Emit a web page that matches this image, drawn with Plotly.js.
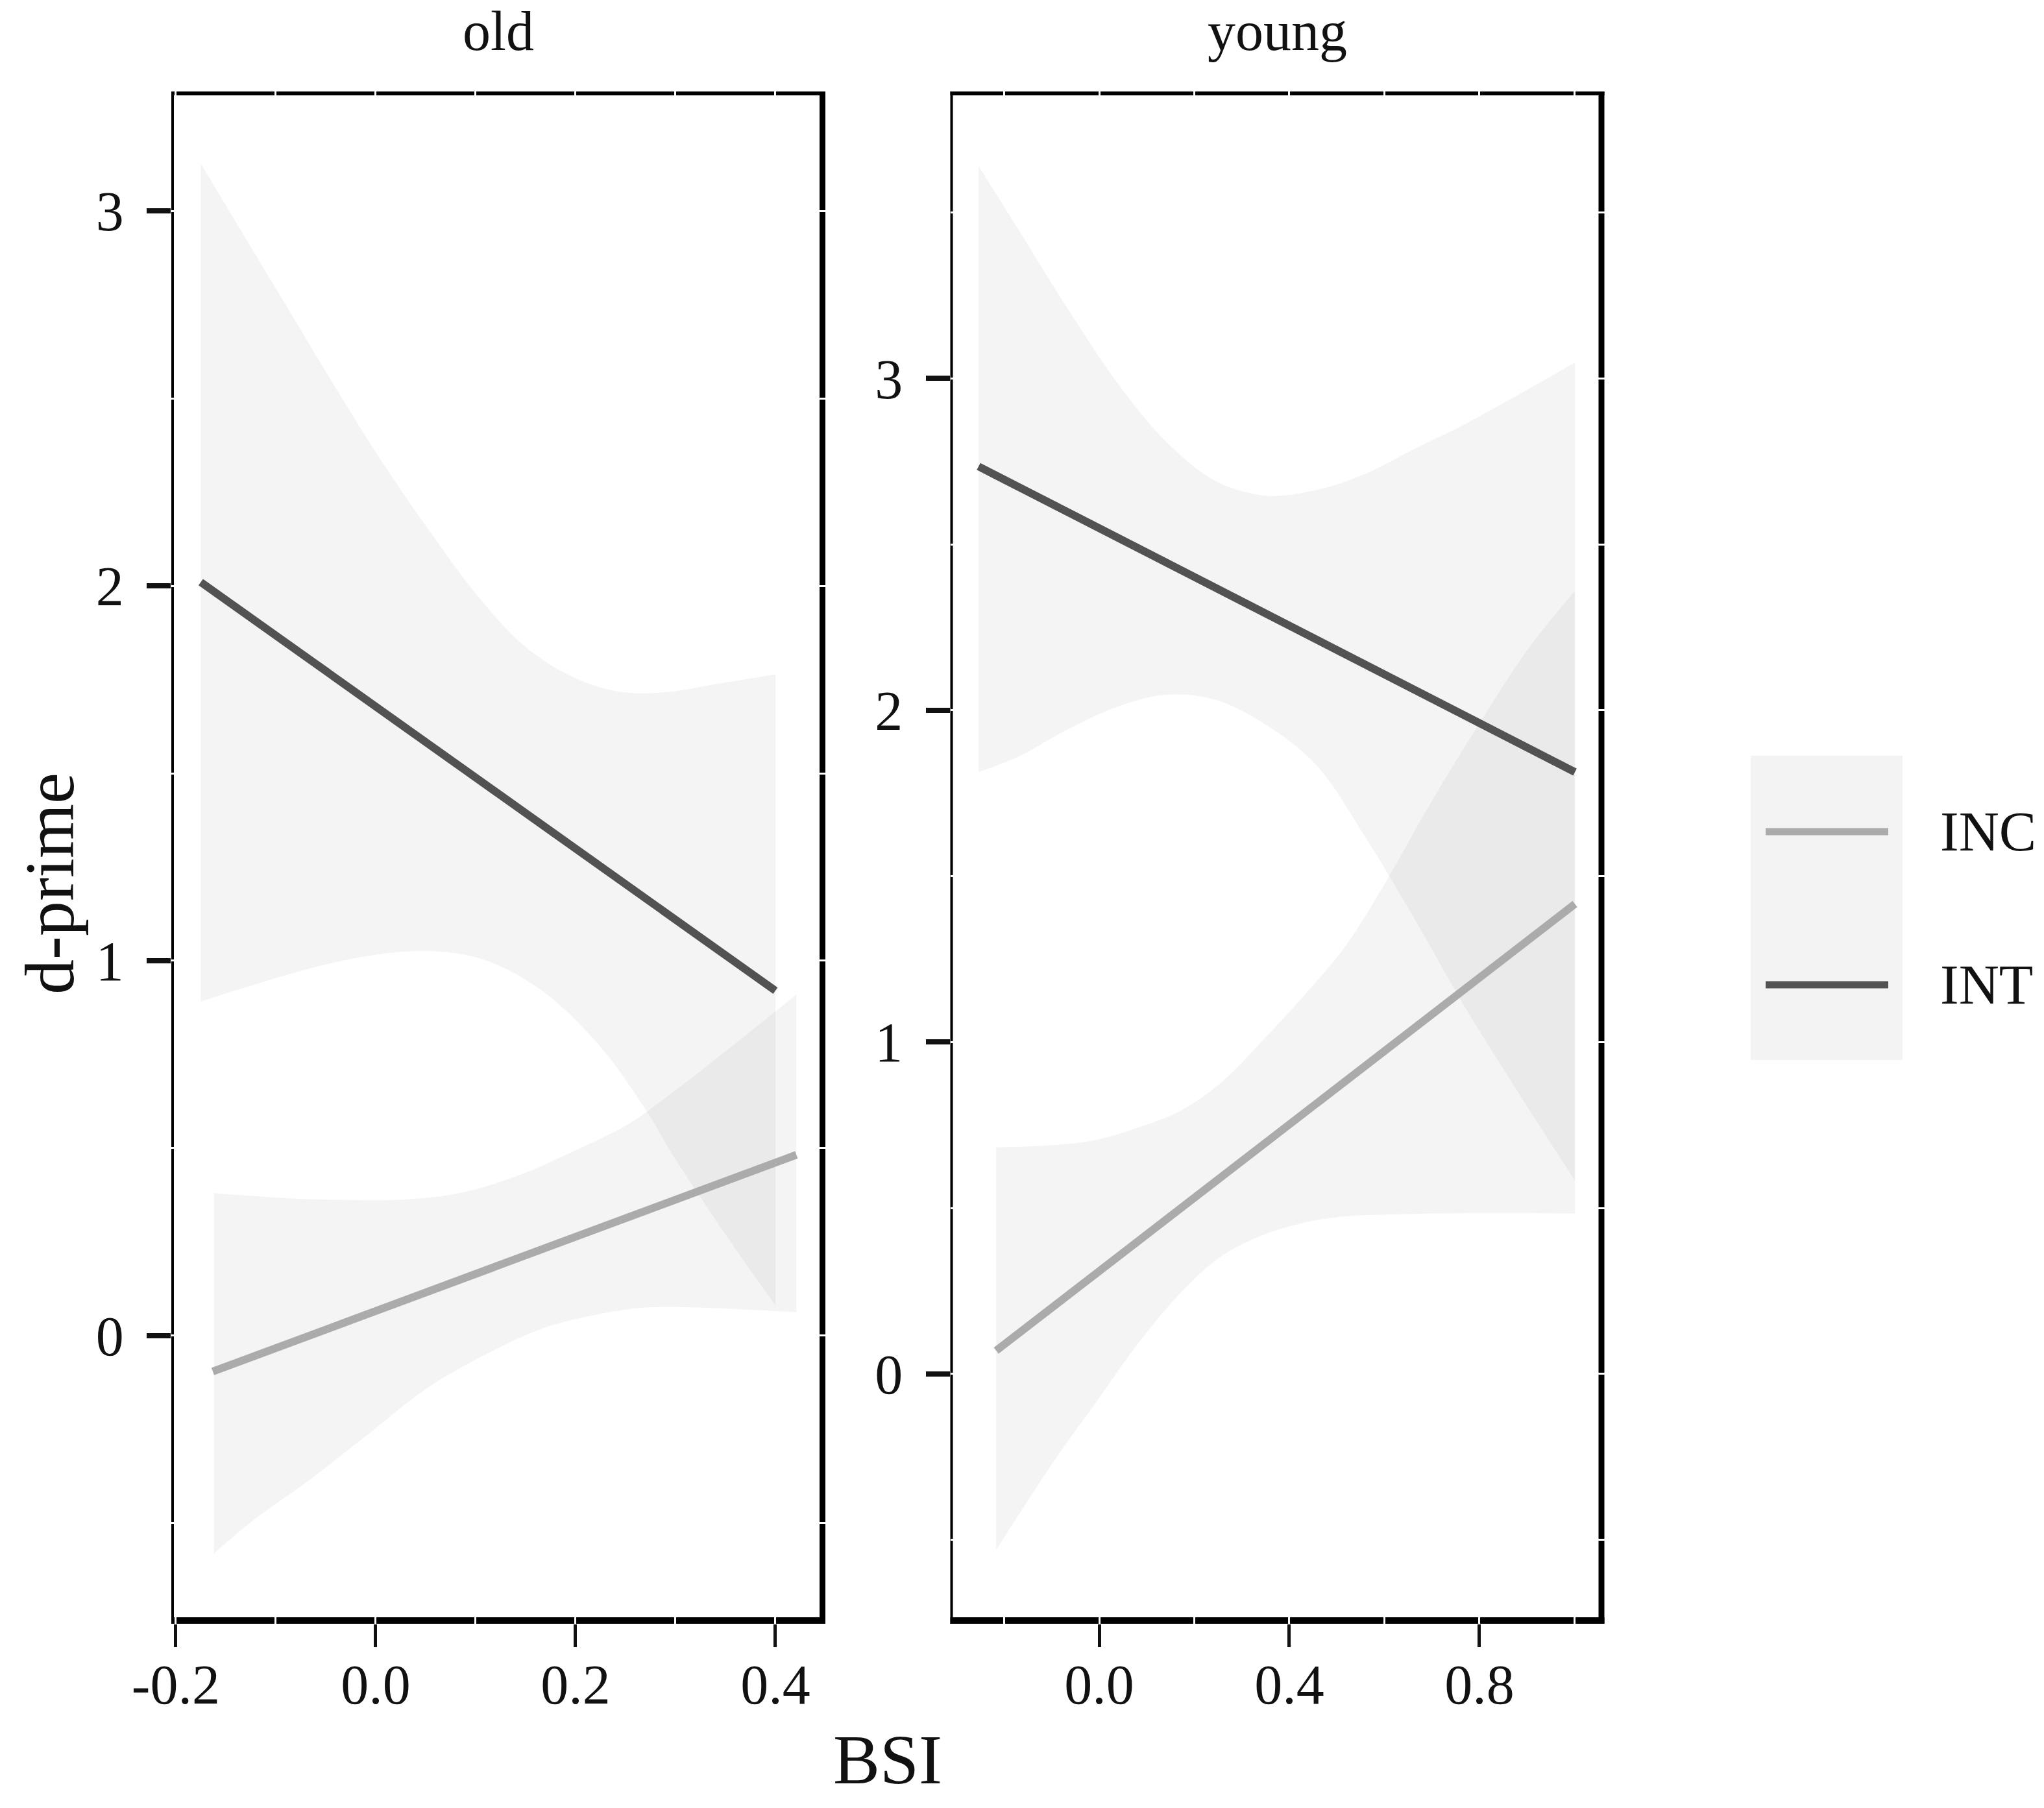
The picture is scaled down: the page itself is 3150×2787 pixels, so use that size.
<!DOCTYPE html>
<html>
<head>
<meta charset="utf-8">
<script src="https://cdn.plot.ly/plotly-3.0.1.min.js"></script>
<style>
  body { margin: 0; background: #fff; }
  #chart { width: 3150px; height: 2787px; }
</style>
</head>
<body>
<div id="chart"></div>
<script>
// facets and groups
var panels = ["old", "young"];
var groups = ["INC", "INT"];

// old / INC : fitted line and confidence band
var oldIncLineX = [-0.163, 0.421];
var oldIncLineY = [-0.096, 0.482];
var oldIncUpX = [-0.162, -0.094, -0.036, 0.022, 0.080, 0.138, 0.196, 0.254, 0.293, 0.340, 0.421];
var oldIncUpper = [0.380, 0.367, 0.362, 0.362, 0.378, 0.422, 0.489, 0.566, 0.640, 0.737, 0.910];
var oldIncLoX = [-0.162, -0.123, -0.065, -0.007, 0.051, 0.109, 0.167, 0.225, 0.273, 0.340, 0.421];
var oldIncLower = [-0.582, -0.494, -0.383, -0.262, -0.141, -0.052, 0.019, 0.058, 0.075, 0.073, 0.062];

// old / INT
var oldIntLineX = [-0.175, 0.400];
var oldIntLineY = [2.010, 0.920];
var oldIntUpX = [-0.175, -0.136, -0.088, -0.040, 0.007, 0.055, 0.103, 0.150, 0.197, 0.245, 0.293, 0.340, 0.400];
var oldIntUpper = [3.127, 2.953, 2.741, 2.528, 2.328, 2.142, 1.970, 1.837, 1.757, 1.717, 1.717, 1.738, 1.764];
var oldIntLoX = [-0.175, -0.123, -0.065, -0.007, 0.051, 0.109, 0.167, 0.225, 0.271, 0.300, 0.350, 0.400];
var oldIntLower = [0.891, 0.935, 0.980, 1.013, 1.026, 1.002, 0.919, 0.770, 0.599, 0.470, 0.270, 0.080];

// young / INC
var youngIncLineX = [-0.217, 1.001];
var youngIncLineY = [0.070, 1.416];
var youngIncUpX = [-0.217, -0.091, -0.004, 0.083, 0.171, 0.258, 0.344, 0.432, 0.519, 0.606, 0.693, 0.800, 0.900, 1.001];
var youngIncUpper = [0.683, 0.690, 0.706, 0.743, 0.793, 0.880, 1.005, 1.142, 1.291, 1.490, 1.710, 1.960, 2.180, 2.360];
var youngIncLoX = youngIncUpX;
var youngIncLower = [-0.530, -0.254, -0.080, 0.094, 0.244, 0.356, 0.418, 0.456, 0.475, 0.480, 0.483, 0.485, 0.485, 0.483];

// young / INT
var youngIntLineX = [-0.254, 1.001];
var youngIntLineY = [2.735, 1.814];
var youngIntUpX = [-0.254, -0.172, -0.068, 0.037, 0.141, 0.246, 0.350, 0.455, 0.559, 0.664, 0.769, 0.873, 1.001];
var youngIntUpper = [3.640, 3.453, 3.214, 2.989, 2.809, 2.690, 2.647, 2.663, 2.712, 2.788, 2.862, 2.944, 3.048];
var youngIntLoX = youngIntUpX;
var youngIntLower = [1.814, 1.859, 1.941, 2.010, 2.047, 2.031, 1.957, 1.838, 1.620, 1.370, 1.107, 0.868, 0.583];

// tick labels
var oldTickVals = [-0.2, 0, 0.2, 0.4];
var oldTickText = ["-0.2", "0.0", "0.2", "0.4"];
var youngTickVals = [0, 0.4, 0.8];
var youngTickText = ["0.0", "0.4", "0.8"];
var yTickVals = [0, 1, 2, 3];

var FONT = "Liberation Serif, Times New Roman, serif";
var lineColor = { INC: "#ababab", INT: "#525252" };
var bandFill = "rgba(128,128,128,0.09)";

function band(xLo, lo, xHi, hi, xa, ya) {
  return [
    { x: xLo, y: lo, xaxis: xa, yaxis: ya, mode: "lines", line: { width: 0, shape: "spline" },
      hoverinfo: "skip", showlegend: false },
    { x: xHi, y: hi, xaxis: xa, yaxis: ya, mode: "lines", line: { width: 0, shape: "spline" },
      fill: "tonexty", fillcolor: bandFill, hoverinfo: "skip", showlegend: false }
  ];
}

function fit(x, y, name, xa, ya) {
  return { x: x, y: y, xaxis: xa, yaxis: ya, mode: "lines", name: name,
    line: { color: lineColor[name], width: 12 }, showlegend: false };
}

var data = [].concat(
  band(oldIncLoX, oldIncLower, oldIncUpX, oldIncUpper, "x", "y"),
  band(oldIntLoX, oldIntLower, oldIntUpX, oldIntUpper, "x", "y"),
  band(youngIncLoX, youngIncLower, youngIncUpX, youngIncUpper, "x2", "y2"),
  band(youngIntLoX, youngIntLower, youngIntUpX, youngIntUpper, "x2", "y2"),
  [
    fit(oldIncLineX, oldIncLineY, groups[0], "x", "y"),
    fit(oldIntLineX, oldIntLineY, groups[1], "x", "y"),
    fit(youngIncLineX, youngIncLineY, groups[0], "x2", "y2"),
    fit(youngIntLineX, youngIntLineY, groups[1], "x2", "y2")
  ]
);

var W = 3150, H = 2787;
var xd1 = [264 / W, 1272 / W];
var xd2 = [1464.5 / W, 2472.5 / W];
var yd = [1 - 2503 / H, 1 - 141 / H];
var PW = 1008, PH = 2362;   // panel size in px

// white grid lines (major + minor) that break the panel border
function grid() {
  return { showgrid: true, gridcolor: "#fff", gridwidth: 3 };
}

function xAxis(dom, range, vals, text, dtick, anchor) {
  return Object.assign(grid(), {
    domain: dom, range: range, anchor: anchor, zeroline: false, showline: false,
    ticks: "outside", ticklen: 35, tickwidth: 5, tickcolor: "#111",
    tickvals: vals, ticktext: text, ticklabelstandoff: -16,
    minor: { dtick: dtick, tick0: 0, showgrid: true, gridcolor: "#fff", gridwidth: 3, ticks: "" },
    tickfont: { family: FONT, size: 86, color: "#111" }
  });
}

function yAxis(range, anchor) {
  return Object.assign(grid(), {
    domain: yd, range: range, anchor: anchor, zeroline: false, showline: false,
    ticks: "outside", ticklen: 37, tickwidth: 8, tickcolor: "#111",
    tickvals: yTickVals, ticklabelstandoff: 18,
    minor: { dtick: 0.5, tick0: 0, showgrid: true, gridcolor: "#fff", gridwidth: 3, ticks: "" },
    tickfont: { family: FONT, size: 86, color: "#111" }
  });
}

// panel borders, drawn below the grid so the white grid lines cut them
var shapes = [];
function edge(xa, ya, x0, x1, y0, y1, w) {
  shapes.push({ type: "line", layer: "below", xref: xa + " domain", yref: ya + " domain",
    x0: x0, x1: x1, y0: y0, y1: y1, line: { color: "#000", width: w } });
}
[["x", "y"], ["x2", "y2"]].forEach(function (p) {
  var bw = 10, tw = 6, lw = 4, rw = 9;
  edge(p[0], p[1], 0, 1, bw / 2 / PH, bw / 2 / PH, bw);               // bottom
  edge(p[0], p[1], 0, 1, 1 - tw / 2 / PH, 1 - tw / 2 / PH, tw);       // top
  edge(p[0], p[1], lw / 2 / PW, lw / 2 / PW, 0, 1, lw);               // left
  edge(p[0], p[1], 1 - rw / 2 / PW, 1 - rw / 2 / PW, 0, 1, rw);       // right
});

// legend block
var legX0 = 2698 / W, legX1 = 2932 / W;
var legY = [1 - 1282 / H, 1 - 1518 / H];
shapes.push({ type: "rect", xref: "paper", yref: "paper", x0: legX0, x1: legX1,
  y0: 1 - 1634 / H, y1: 1 - 1165 / H, fillcolor: "#f3f3f3", line: { width: 0 } });
groups.forEach(function (g, i) {
  shapes.push({ type: "line", xref: "paper", yref: "paper", x0: 2721 / W, x1: 2910 / W,
    y0: legY[i], y1: legY[i], line: { color: lineColor[g], width: 11 } });
});

var annotations = [
  { text: panels[0], x: (xd1[0] + xd1[1]) / 2, y: 1 - 48 / H },
  { text: panels[1], x: (xd2[0] + xd2[1]) / 2, y: 1 - 48 / H }
].map(function (a) {
  return Object.assign(a, { xref: "paper", yref: "paper", showarrow: false,
    xanchor: "center", yanchor: "middle", font: { family: FONT, size: 86, color: "#111" } });
});
annotations.push({ text: "BSI", xref: "paper", yref: "paper", x: 1368 / W, y: 1 - 2712 / H,
  showarrow: false, xanchor: "center", yanchor: "middle", font: { family: FONT, size: 108, color: "#111" } });
annotations.push({ text: "d-prime", xref: "paper", yref: "paper", x: 76 / W, y: 1 - 1362 / H,
  showarrow: false, textangle: -90, xanchor: "center", yanchor: "middle",
  font: { family: FONT, size: 108, color: "#111" } });
groups.forEach(function (g, i) {
  annotations.push({ text: g, xref: "paper", yref: "paper", x: 2988 / W, y: legY[i],
    showarrow: false, xanchor: "left", yanchor: "middle",
    font: { family: FONT, size: 86, color: "#111" } });
});

var layout = {
  width: W, height: H,
  margin: { l: 0, r: 0, t: 0, b: 0 },
  paper_bgcolor: "#fff", plot_bgcolor: "rgba(0,0,0,0)",
  showlegend: false,
  xaxis: xAxis(xd1, [-0.2045, 0.45], oldTickVals, oldTickText, 0.1, "y"),
  yaxis: yAxis([-0.769, 3.319], "x"),
  xaxis2: xAxis(xd2, [-0.3135, 1.063], youngTickVals, youngTickText, 0.2, "y2"),
  yaxis2: yAxis([-0.753, 3.865], "x2"),
  shapes: shapes,
  annotations: annotations
};

Plotly.newPlot("chart", data, layout, { staticPlot: true });
</script>
</body>
</html>
